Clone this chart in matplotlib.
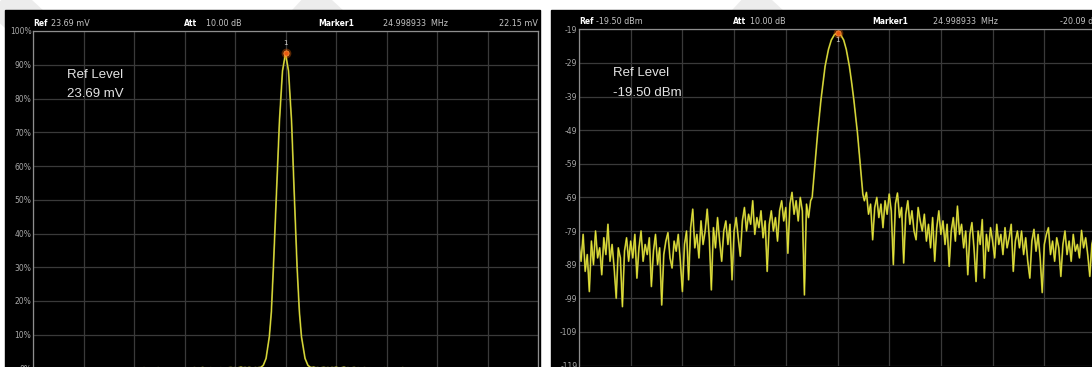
import numpy as np
import matplotlib
matplotlib.use("Agg")
import matplotlib.pyplot as plt
from matplotlib.patches import Rectangle

# --- values --------------------------------------------------------------
ref_dbm = -19.50
ref_mv = 23.69
att_db = "10.00 dB"
marker_freq = "24.998933  MHz"
marker_dbm = -20.09
marker_mv = 22.15

sweep_step = 0.04        # grid divisions between sweep points
right_noise_start = 5.52  # first noise point right of the main lobe (div)
center_div = 5.0

# noise floor left of the carrier (dBm), one value per sweep point
noise_left_dbm = [
    -83, -88, -80, -91, -86, -97, -82, -89, -79, -87, -84, -92, -81, -86, -77,
    -88, -83, -90, -99, -84, -87, -101.5, -85, -81, -88,
    -82, -87, -80, -93, -84, -79, -88, -83, -86, -81, -95.5, -85, -80, -89, -84,
    -101, -86, -82, -79.5, -87, -90, -82, -85, -80, -88,
    -97, -83, -79, -93.5, -78, -72.5, -84, -80, -87, -76, -83, -79, -72.5, -81,
    -96.5, -78, -84, -75, -82, -88, -79, -76, -83, -77, -93.5,
    -79, -75, -81, -86.5, -76, -72, -79, -74, -77, -70, -80, -75, -78, -73, -81,
    -76, -91, -77, -73, -79, -75,
    -82, -73, -70, -76, -72, -85.6, -71, -67.5, -74, -70, -76, -69, -73, -98,
    -71, -75, -70,
]

# main lobe, offset from centre (div) and level (dBm)
lobe_offset_div = [-0.49, -0.44, -0.385, -0.32, -0.28, -0.24, -0.175, -0.12,
                   -0.06, 0.0, 0.06, 0.12, 0.17, 0.23, 0.275, 0.316, 0.387,
                   0.444, 0.49]
lobe_dbm = [-69, -60, -50, -40, -35, -30, -25, -22.2, -20.6, -20.09, -20.6,
            -22.2, -25, -30, -35, -40, -50, -60, -68]

# noise floor right of the carrier (dBm)
noise_right_dbm = [
    -70, -67.5, -74, -71, -81.6, -72, -69, -75, -71, -78, -70, -74, -68,
    -73, -89, -71, -67.7, -75, -72, -88.5, -74, -70, -77, -73, -79, -81.6, -72,
    -76,
    -79, -74, -82, -77, -84, -75, -88, -78, -73, -80, -76, -83, -77, -89.5, -79,
    -75, -82, -71.6, -80, -77, -84, -79,
    -92, -80, -76.5, -84, -94, -79, -83, -75.6, -93, -80, -85, -78, -82, -87,
    -77, -83, -80, -86, -78, -84, -81, -77, -91, -82, -79,
    -84, -79, -86, -81, -88, -93, -82, -78.5, -85, -80, -87, -97.3, -83, -80,
    -78, -86, -82, -88, -81, -84, -92.5, -83, -79, -86, -82, -88, -80, -85,
    -83, -87, -78.8, -84, -81, -86, -92.5, -83, -80, -85,
]

pct_ticks = [100, 90, 80, 70, 60, 50, 40, 30, 20, 10, 0]
dbm_ticks = [-19, -29, -39, -49, -59, -69, -79, -89, -99, -109, -119]
div_ticks = list(range(11))

# --- build the trace -------------------------------------------------------
x_left = np.arange(len(noise_left_dbm)) * sweep_step
x_lobe = center_div + np.array(lobe_offset_div)
x_right = right_noise_start + np.arange(len(noise_right_dbm)) * sweep_step
trace_x = np.concatenate([x_left, x_lobe, x_right])
trace_dbm = np.concatenate([noise_left_dbm, lobe_dbm, noise_right_dbm])

# same trace as a voltage, in % of the reference level (50 ohm)
trace_mv = np.sqrt(10 ** (trace_dbm / 10) * 1e-3 * 50) * 1e3
trace_pct = trace_mv / ref_mv * 100
marker_pct = marker_mv / ref_mv * 100

W, H = 1092, 367
fig = plt.figure(figsize=(W / 100, H / 100), dpi=100, facecolor="white")


def fx(x):
    return x / W


def fy(y):
    return 1 - y / H


# faint diagonal watermark bands behind the screens
for x0 in [-40, 260, 700]:
    fig.add_artist(plt.Line2D([fx(x0), fx(x0 + 260)], [fy(-40), fy(200)],
                              color="#ececec", lw=28, zorder=0,
                              solid_capstyle="butt"))

# black instrument screens
for x0, x1 in [(5, 540), (551, 1092)]:
    fig.add_artist(Rectangle((fx(x0), 0), fx(x1) - fx(x0), fy(10),
                             transform=fig.transFigure, color="black",
                             zorder=1))

grid_col = "#3a3a3a"
frame_col = "#8e8e8e"
label_col = "#a8a8a8"


def style_axes(ax, yticks, ylabels):
    ax.set_facecolor("black")
    ax.set_xlim(0, 10)
    ax.set_xticks(div_ticks)
    ax.set_xticklabels([])
    ax.set_yticks(yticks)
    ax.set_yticklabels(ylabels)
    ax.grid(True, color=grid_col, lw=0.9)
    ax.tick_params(length=0, pad=1.2, labelsize=5.5, labelcolor=label_col)
    for s in ax.spines.values():
        s.set_color(frame_col)
        s.set_linewidth(0.9)
    ax.spines["bottom"].set_visible(False)
    ax.set_zorder(2)


def draw_trace(ax, x, y):
    # olive halo plus a bright core, like the analyser's trace rendering
    ax.plot(x, y, color="#9a9a30", lw=1.3)
    ax.plot(x, y, color="#e8e838", lw=0.6)


def draw_marker(ax, x, y, dy, va):
    ax.plot(x, y, "o", ms=7, color="#ff6a00", alpha=0.35, mec="none")
    ax.plot(x, y, "o", ms=3.8, color="#e85a10", mec="#ff9a40", mew=0.5)
    ax.annotate("1", (x, y), xytext=(0, dy), textcoords="offset points",
                ha="center", va=va, fontsize=5, color="#d0d0d0")


# --- left screen, linear scale ---------------------------------------------
ax1 = fig.add_axes([fx(33), fy(368.5), fx(538) - fx(33), (368.5 - 31) / H])
style_axes(ax1, pct_ticks, [f"{t}%" for t in pct_ticks])
ax1.set_ylim(0, 100)
draw_trace(ax1, trace_x, trace_pct)
draw_marker(ax1, center_div, marker_pct, 5, "bottom")

# --- right screen, log scale -----------------------------------------------
ax2 = fig.add_axes([fx(579), fy(365.5), fx(1096) - fx(579), (365.5 - 29.3) / H])
style_axes(ax2, dbm_ticks, [str(t) for t in dbm_ticks])
ax2.set_ylim(dbm_ticks[-1], dbm_ticks[0])
draw_trace(ax2, trace_x, trace_dbm)
draw_marker(ax2, center_div, marker_dbm, -3, "top")

# --- header lines and big ref level text -----------------------------------
hdr = dict(fontsize=5.8, va="baseline", zorder=3)
bold = dict(fontsize=5.5, va="baseline", zorder=3, weight="bold",
            color="#ffffff")
grey = "#c4c4c4"


def header(x0, base, ref_txt, xs):
    fig.text(fx(x0), fy(base), "Ref", **bold)
    fig.text(fx(xs[0]), fy(base), ref_txt, color=grey, **hdr)
    fig.text(fx(xs[1]), fy(base), "Att", **bold)
    fig.text(fx(xs[2]), fy(base), att_db, color=grey, **hdr)
    fig.text(fx(xs[3]), fy(base), "Marker1", **bold)
    fig.text(fx(xs[4]), fy(base), marker_freq, color=grey, **hdr)


header(33, 26.5, f"{ref_mv:.2f} mV", [51, 184, 206, 318, 383])
fig.text(fx(538), fy(26.5), f"{marker_mv:.2f} mV", color=grey, ha="right",
         **hdr)
header(579, 24.5, f"{ref_dbm:.2f} dBm", [596, 733, 750, 872, 933])
fig.text(fx(1060), fy(24.5), f"{marker_dbm:.2f} dBm", color=grey, **hdr)

big = dict(fontsize=9.5, family="Liberation Sans", color="#e4e4e4",
           va="baseline", zorder=3)
fig.text(fx(67), fy(78), "Ref Level", **big)
fig.text(fx(67), fy(97), f"{ref_mv:.2f} mV", **big)
fig.text(fx(613), fy(76), "Ref Level", **big)
fig.text(fx(613), fy(96), f"{ref_dbm:.2f} dBm", **big)

fig.savefig("out.png", dpi=100, facecolor="white")
